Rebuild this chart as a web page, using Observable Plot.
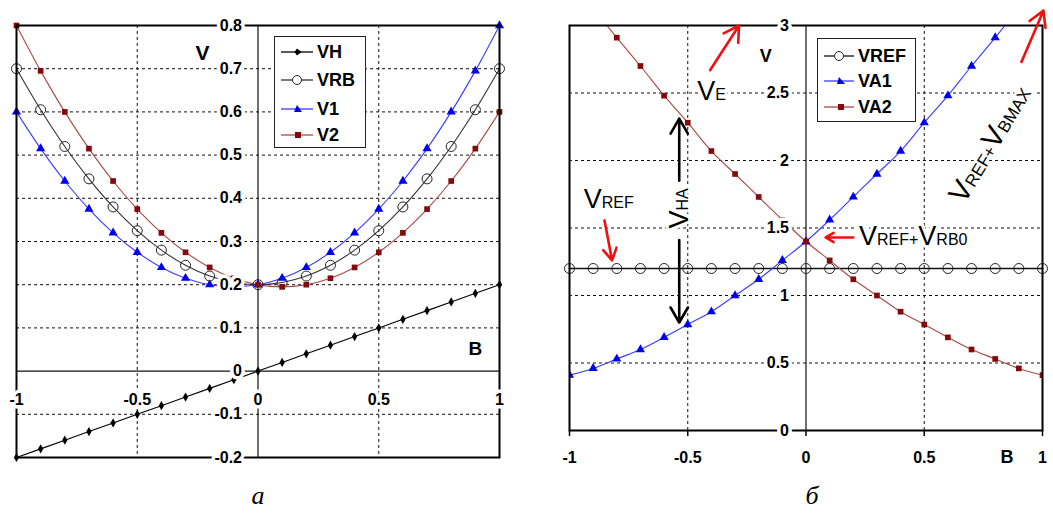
<!DOCTYPE html>
<html><head><meta charset="utf-8">
<script src="https://cdn.jsdelivr.net/npm/d3@7"></script>
<script src="https://cdn.jsdelivr.net/npm/@observablehq/plot@0.6"></script>
<style>
body{margin:0;background:#fff;}
#wrap{position:relative;width:1053px;height:514px;overflow:hidden;font-family:"Liberation Sans",Arial,sans-serif;background:#fff;}
.panel{position:absolute;top:0;}
.legend{position:absolute;background:#fff;border:1px solid #222;box-sizing:border-box;}
.legend .row{position:absolute;left:0;height:20px;display:flex;align-items:center;}
.legend .row svg{margin-left:6px;}
.legend .row span{font-weight:bold;font-size:18px;margin-left:4px;color:#000;}
.cap{position:absolute;top:483px;transform:translateX(-50%);font-family:"Liberation Serif","DejaVu Serif",serif;font-style:italic;font-size:26px;line-height:26px;}
</style></head><body><div id="wrap"></div>
<script>
// ---------- data ----------
const B = [-1,-0.9,-0.8,-0.7,-0.6,-0.5,-0.4,-0.3,-0.2,-0.1,0,0.1,0.2,0.3,0.4,0.5,0.6,0.7,0.8,0.9,1];
// panel a
const VH  = [-0.2,-0.18,-0.16,-0.14,-0.12,-0.1,-0.08,-0.06,-0.04,-0.02,0,0.02,0.04,0.06,0.08,0.1,0.12,0.14,0.16,0.18,0.2];
const VRB = [0.7,0.605,0.52,0.445,0.38,0.325,0.28,0.245,0.22,0.205,0.2,0.205,0.22,0.245,0.28,0.325,0.38,0.445,0.52,0.605,0.7];
const V1  = [0.6,0.515,0.44,0.375,0.32,0.275,0.24,0.215,0.2,0.195,0.2,0.215,0.24,0.275,0.32,0.375,0.44,0.515,0.6,0.695,0.8];
const V2  = [0.8,0.695,0.6,0.515,0.44,0.375,0.32,0.275,0.24,0.215,0.2,0.195,0.2,0.215,0.24,0.275,0.32,0.375,0.44,0.515,0.6];
// panel б
const VREF = [1.2,1.2,1.2,1.2,1.2,1.2,1.2,1.2,1.2,1.2,1.2,1.2,1.2,1.2,1.2,1.2,1.2,1.2,1.2,1.2,1.2];
const VA1  = [0.41,0.46,0.53,0.6,0.69,0.785,0.88,1.0,1.12,1.26,1.4,1.56,1.73,1.9,2.07,2.28,2.48,2.7,2.91,3.13,3.37];
const VA2  = [3.37,3.13,2.91,2.7,2.48,2.28,2.07,1.9,1.73,1.56,1.4,1.26,1.12,1.0,0.88,0.785,0.69,0.6,0.53,0.46,0.41];
// ticks
const xTicks = [-1,-0.5,0,0.5,1];
const yTicksA = [-0.2,-0.1,0,0.1,0.2,0.3,0.4,0.5,0.6,0.7,0.8];
const yGridA = [-0.1,0.1,0.2,0.3,0.4,0.5,0.6,0.7];
const yTicksB = [0,0.5,1,1.5,2,2.5,3];
const yGridB = [0.5,1,1.5,2,2.5];
const xGrid = [-0.5,0.5];
// axis labels
const axisLabelsA = [{t:"V",x:-0.23,y:0.735,size:21},{t:"B",x:0.9,y:0.052,size:19}];
const axisLabelsB = [{t:"V",x:-0.17,y:2.77,size:18}];
// annotations (panel б, data units)
const annots = [
  {id:"VE", parts:[["V",27],["E",16]], x:-0.46, y:2.51, rotate:0},
  {id:"VREF", parts:[["V",27],["REF",16]], x:-0.94, y:1.71, rotate:0},
  {id:"VREF+VRB0", parts:[["V",27],["REF+",16],["V",27],["RB0",16]], x:0.224, y:1.44, rotate:0},
];
const annotsRot = [
  {id:"VHA", parts:[["V",27],["HA",16]], x:-0.536, y:1.645, rotate:-90},
  {id:"VREF+VBMAX", parts:[["V",29],["REF+",17],["V",29],["BMAX",17]], x:0.78, y:2.12, rotate:-59},
];
const redArrows = [
  {x1:-0.405,y1:2.67,x2:-0.283,y2:3.0},
  {x1:-0.852,y1:1.556,x2:-0.82,y2:1.26},
  {x1:0.2,y1:1.43,x2:0.083,y2:1.43},
  {x1:0.911,y1:2.73,x2:1.004,y2:3.11},
];
const blackArrows = [
  {x1:-0.536,y1:1.85,x2:-0.536,y2:2.31},
  {x1:-0.536,y1:1.41,x2:-0.536,y2:0.80},
];

// ---------- helpers ----------
const rows = ys => B.map((b,i)=>({b, v: ys[i]}));
const BLUE_LINE="#3a3aff", BLUE="#0000ee", RED_LINE="#a84848", RED="#840a0a";
const FONT = '"Liberation Sans", Arial, sans-serif';
const halo = {stroke:"white", strokeWidth:7, paintOrder:"stroke", strokeLinejoin:"round"};

const wrap = document.getElementById("wrap");

// ---------- panel a ----------
const plotA = Plot.plot({
  width:520, height:470, marginLeft:16, marginRight:21, marginTop:25, marginBottom:13,
  x:{domain:[-1,1], axis:null},
  y:{domain:[-0.2,0.8], axis:null},
  style:{fontFamily:FONT, background:"white", overflow:"visible"},
  marks:[
    Plot.ruleY(yGridA, {stroke:"#111", strokeDasharray:"3,3", strokeWidth:1}),
    Plot.ruleX(xGrid, {stroke:"#111", strokeDasharray:"3,3", strokeWidth:1}),
    Plot.ruleX([0], {stroke:"#111", strokeWidth:1.2}),
    Plot.ruleY([0], {stroke:"#111", strokeWidth:1.2}),
    Plot.line(rows(VH), {x:"b", y:"v", stroke:"#000", strokeWidth:1.1}),
    Plot.line(rows(VRB), {x:"b", y:"v", stroke:"#333", strokeWidth:1.1, curve:"catmull-rom"}),
    Plot.line(rows(V1), {x:"b", y:"v", stroke:BLUE_LINE, strokeWidth:1.1, curve:"catmull-rom"}),
    Plot.line(rows(V2), {x:"b", y:"v", stroke:RED_LINE, strokeWidth:1.1, curve:"catmull-rom"}),
    Plot.dot(rows(VH), {x:"b", y:"v", symbol:"diamond", fill:"#000", r:2.8}),
    Plot.dot(rows(VRB), {x:"b", y:"v", symbol:"circle", stroke:"#222", fill:"none", r:5, strokeWidth:1}),
    Plot.dot(rows(V1), {x:"b", y:"v", symbol:"triangle", fill:BLUE, r:3.4}),
    Plot.dot(rows(V2), {x:"b", y:"v", symbol:"square", fill:RED, r:3.2}),
    Plot.frame({stroke:"#000", strokeWidth:2}),
    Plot.text(yTicksA, {x:0, y:d=>d, text:d=>String(d), textAnchor:"end", dx:-16, fontWeight:"bold", fontSize:16, fill:"#000", ...halo}),
    Plot.text(xTicks, {x:d=>d, y:0, text:d=>String(d), dy:29, fontWeight:"bold", fontSize:16, fill:"#000", ...halo}),
    Plot.text(axisLabelsA, {x:"x", y:"y", text:"t", fontSize:d=>d.size, fontWeight:"bold", fill:"#000"}),
  ]
});
plotA.classList.add("panel"); plotA.style.left="0px";
wrap.appendChild(plotA);

// ---------- panel б ----------
const plotB = Plot.plot({
  width:533, height:470, marginLeft:49, marginRight:11, marginTop:25, marginBottom:40,
  x:{domain:[-1,1], axis:null},
  y:{domain:[0,3], axis:null},
  style:{fontFamily:FONT, background:"white", overflow:"visible"},
  marks:[
    Plot.ruleY(yGridB, {stroke:"#111", strokeDasharray:"3,3", strokeWidth:1}),
    Plot.ruleX(xGrid, {stroke:"#111", strokeDasharray:"3,3", strokeWidth:1}),
    Plot.ruleX([0], {stroke:"#111", strokeWidth:1.2}),
    Plot.ruleX(xTicks, {y1:0, y2:-0.045, stroke:"#000", strokeWidth:1.5}),
    Plot.line(rows(VREF), {x:"b", y:"v", stroke:"#111", strokeWidth:1.6}),
    Plot.line(rows(VA1), {x:"b", y:"v", stroke:BLUE_LINE, strokeWidth:1.1, curve:"catmull-rom", clip:true}),
    Plot.line(rows(VA2), {x:"b", y:"v", stroke:RED_LINE, strokeWidth:1.1, curve:"catmull-rom", clip:true}),
    Plot.dot(rows(VREF), {x:"b", y:"v", symbol:"circle", stroke:"#222", fill:"none", r:5, strokeWidth:1}),
    Plot.dot(rows(VA1), {x:"b", y:"v", symbol:"triangle", fill:BLUE, r:3.4, clip:true}),
    Plot.dot(rows(VA2), {x:"b", y:"v", symbol:"square", fill:RED, r:3.2, clip:true}),
    Plot.frame({stroke:"#000", strokeWidth:2}),
    Plot.text(yTicksB, {x:0, y:d=>d, text:d=>String(d), textAnchor:"end", dx:-17, fontWeight:"bold", fontSize:16, fill:"#000", ...halo}),
    Plot.text(xTicks, {x:d=>d, y:0, text:d=>String(d), dy:27, fontWeight:"bold", fontSize:16, fill:"#000"}),
    Plot.text(["B"], {x:0.85, y:0, text:d=>d, dy:27, fontWeight:"bold", fontSize:18, fill:"#000"}),
    Plot.text(axisLabelsB, {x:"x", y:"y", text:"t", fontSize:d=>d.size, fontWeight:"bold", fill:"#000"}),
    Plot.text(annots, {x:"x", y:"y", text:"id", textAnchor:"start", fontSize:27, fill:"#000", ...halo, strokeWidth:6}),
    Plot.text(annotsRot, {x:"x", y:"y", text:"id", rotate:"rotate", textAnchor:"middle", fontSize:27, fill:"#000", ...halo, strokeWidth:6}),
    Plot.arrow(redArrows, {x1:"x1", y1:"y1", x2:"x2", y2:"y2", stroke:"#ee1111", strokeWidth:2.6, headLength:10}),
    Plot.arrow(blackArrows, {x1:"x1", y1:"y1", x2:"x2", y2:"y2", stroke:"#000", strokeWidth:2.6, headLength:10}),
  ]
});
plotB.classList.add("panel"); plotB.style.left="520px";
wrap.appendChild(plotB);

// subscripts as tspans
const partsById = Object.fromEntries([...annots, ...annotsRot].map(a=>[a.id, a.parts]));
d3.select(plotB).selectAll("text").each(function(){
  const p = partsById[this.textContent];
  if (!p) return;
  this.textContent = "";
  const t = d3.select(this);
  p.forEach(([s,size])=>{ t.append("tspan").attr("font-size", size).text(s); });
});

// ---------- legends ----------
function sym(kind, color){
  if (kind==="diamond") return `<polygon points="17,3.5 20.5,7 17,10.5 13.5,7" fill="${color}"/>`;
  if (kind==="circle") return `<circle cx="17" cy="7" r="4.5" fill="white" stroke="${color}" stroke-width="1"/>`;
  if (kind==="triangle") return `<polygon points="17,3 21,10 13,10" fill="${color}"/>`;
  if (kind==="square") return `<rect x="14" y="4" width="6" height="6" fill="${color}"/>`;
  return "";
}
function legend(items, box){
  const div = document.createElement("div");
  div.className="legend";
  Object.assign(div.style, {left:box.left+"px", top:box.top+"px", width:box.w+"px", height:box.h+"px"});
  items.forEach((it,i)=>{
    const r = document.createElement("div");
    r.className="row";
    r.style.top = (box.rows[i]-10)+"px";
    r.innerHTML = `<svg width="${box.sw}" height="14"><line x1="0" y1="7" x2="${box.sw}" y2="7" stroke="${it.line}" stroke-width="1.3"/>${sym(it.kind,it.color).replace(/17/g, String(box.sw/2))}</svg><span>${it.name}</span>`;
    div.appendChild(r);
  });
  wrap.appendChild(div);
}
const legendA = [
  {name:"VH", kind:"diamond", color:"#000", line:"#000"},
  {name:"VRB", kind:"circle", color:"#222", line:"#333"},
  {name:"V1", kind:"triangle", color:BLUE, line:BLUE_LINE},
  {name:"V2", kind:"square", color:RED, line:RED_LINE},
];
const legendB = [
  {name:"VREF", kind:"circle", color:"#222", line:"#111"},
  {name:"VA1", kind:"triangle", color:BLUE, line:BLUE_LINE},
  {name:"VA2", kind:"square", color:RED, line:RED_LINE},
];
legend(legendA, {left:274, top:36, w:92, h:112, rows:[15,43,72,98], sw:32});
legend(legendB, {left:817, top:38, w:99, h:84, rows:[17,42,68], sw:30});

// ---------- captions ----------
[["а",258],["б",812]].forEach(([t,x])=>{
  const c=document.createElement("div"); c.className="cap"; c.style.left=x+"px"; c.textContent=t; wrap.appendChild(c);
});
</script></body></html>
